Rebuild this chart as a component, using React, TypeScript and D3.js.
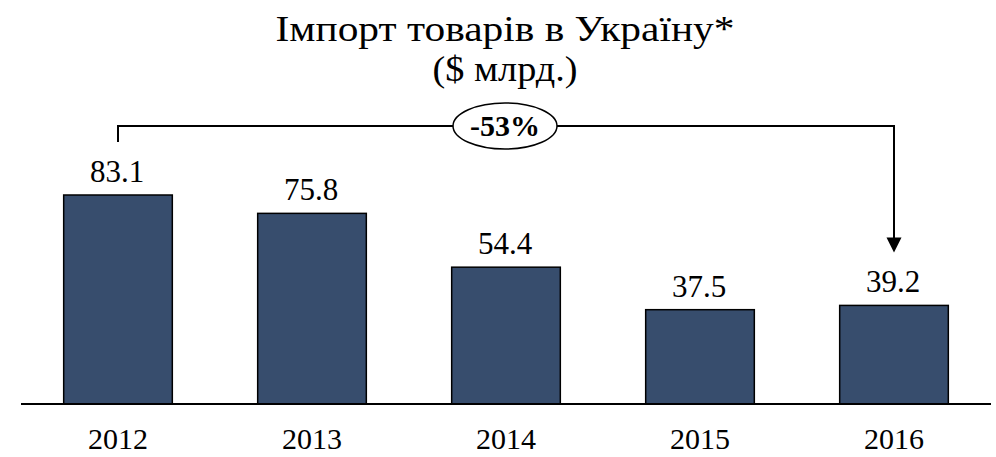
import React, { useEffect, useRef } from "react";
import * as d3 from "d3";

const years = ["2012", "2013", "2014", "2015", "2016"];
const imports = [83.1, 75.8, 54.4, 37.5, 39.2];
const titleLines = ["Імпорт товарів в Україну*", "($ млрд.)"];
const titleWidths = [459, 145];
const changeLabel = "-53%";

export default function App() {
  const svgRef = useRef<SVGSVGElement>(null);

  useEffect(() => {
    document.body.style.margin = "0";
    const w = 996;
    const h = 457;
    const svg = d3.select(svgRef.current);
    svg.selectAll("*").remove();
    svg.attr("width", w).attr("height", h).style("display", "block");

    const font = "'Palatino Linotype', 'Book Antiqua', Palatino, 'Liberation Serif', serif";
    const base = 404;

    const x = d3.scaleBand().domain(years).range([21, 991]).paddingInner(0.44).paddingOuter(0.22);
    const y = d3.scaleLinear().domain([0, 83.1]).range([base, 195]);

    // title
    svg
      .selectAll("text.title")
      .data(titleLines)
      .join("text")
      .attr("class", "title")
      .attr("x", 505)
      .attr("y", (d, i) => 41 + i * 40)
      .attr("text-anchor", "middle")
      .attr("font-family", font)
      .attr("font-size", 35)
      .attr("textLength", (d, i) => titleWidths[i])
      .attr("lengthAdjust", "spacingAndGlyphs")
      .text((d) => d);

    // bars
    svg
      .selectAll("rect.bar")
      .data(imports)
      .join("rect")
      .attr("class", "bar")
      .attr("x", (d, i) => x(years[i])!)
      .attr("y", (d) => y(d))
      .attr("width", x.bandwidth())
      .attr("height", (d) => base - y(d))
      .attr("fill", "#374d6d")
      .attr("stroke", "#000")
      .attr("stroke-width", 1.5);

    // value labels
    svg
      .selectAll("text.val")
      .data(imports)
      .join("text")
      .attr("class", "val")
      .attr("x", (d, i) => x(years[i])! + x.bandwidth() / 2 - 1)
      .attr("y", (d) => y(d) - 13)
      .attr("text-anchor", "middle")
      .attr("font-family", font)
      .attr("font-size", 31)
      .text((d) => d.toFixed(1));

    // baseline
    svg
      .append("line")
      .attr("x1", 21)
      .attr("x2", 991)
      .attr("y1", base)
      .attr("y2", base)
      .attr("stroke", "#000")
      .attr("stroke-width", 2);

    // year labels
    svg
      .selectAll("text.yr")
      .data(years)
      .join("text")
      .attr("class", "yr")
      .attr("x", (d) => x(d)! + x.bandwidth() / 2)
      .attr("y", 449)
      .attr("text-anchor", "middle")
      .attr("font-family", font)
      .attr("font-size", 30)
      .text((d) => d);

    // change bracket
    const x0 = x(years[0])! + x.bandwidth() / 2;
    const x1 = x(years[4])! + x.bandwidth() / 2;
    const by = 126;
    const tipY = y(imports[4]) - 53;
    svg
      .append("path")
      .attr("d", `M${x0},142 V${by} H${x1} V${tipY - 14}`)
      .attr("fill", "none")
      .attr("stroke", "#000")
      .attr("stroke-width", 2);
    svg
      .append("path")
      .attr("d", `M${x1 - 7.5},${tipY - 15} L${x1 + 7.5},${tipY - 15} L${x1},${tipY} Z`)
      .attr("fill", "#000");

    const cx = 505;
    svg
      .append("ellipse")
      .attr("cx", cx)
      .attr("cy", by)
      .attr("rx", 52)
      .attr("ry", 23)
      .attr("fill", "#fff")
      .attr("stroke", "#000")
      .attr("stroke-width", 1.5);
    svg
      .append("text")
      .attr("x", cx)
      .attr("y", 136)
      .attr("text-anchor", "middle")
      .attr("font-family", font)
      .attr("font-weight", "bold")
      .attr("font-size", 30)
      .text(changeLabel);
  }, []);

  return <svg ref={svgRef}></svg>;
}
